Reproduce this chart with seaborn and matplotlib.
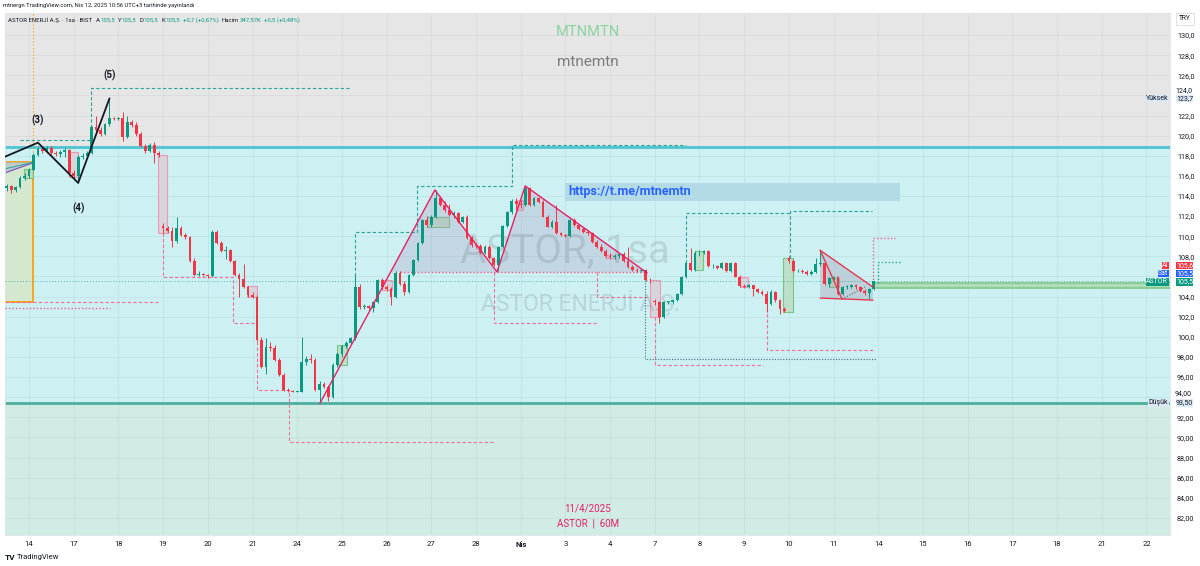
import numpy as np
import pandas as pd
import matplotlib
matplotlib.use("Agg")
import matplotlib.pyplot as plt
from matplotlib.patches import Rectangle, Polygon
import seaborn as sns

sns.set_style("white")
plt.rcParams["font.family"] = ["Roboto", "DejaVu Sans"]

# ASTOR 1h bars: last 5 bars of Mar 13, then 10 bars per session Mar 14 .. Apr 11
opens = [
    114.8, 115.0, 114.6, 114.9, 115.8,
    116.0, 116.6, 118.1, 118.7, 118.5, 118.8, 118.3, 118.2, 118.4, 118.6,
    116.3, 116.0, 117.9, 118.0, 118.3, 120.9, 120.6, 120.2, 121.2, 121.8,
    121.7, 121.8, 119.9, 121.4, 121.1, 120.2, 119.0, 118.5, 119.1, 118.3,
    111.0, 110.8, 110.5, 109.5, 110.8, 110.1, 109.9, 107.5, 106.1, 106.2,
    106.1, 106.0, 110.45, 109.3, 108.5, 108.6, 107.5, 106.1, 105.7, 105.0,
    104.2, 104.0, 99.7, 97.0, 99.0, 98.9, 97.7, 96.2, 94.7, 94.6,
    94.55, 94.55, 97.5, 97.8, 97.7, 94.7, 95.3, 95.0, 94.05, 97.2,
    98.3, 99.1, 99.4, 99.9, 105.0, 103.0, 103.1, 102.9, 103.5, 105.6,
    105.0, 104.8, 104.0, 106.3, 105.3, 104.5, 106.1, 107.6, 109.3, 111.6,
    111.1, 111.95, 113.8, 113.1, 112.6, 112.1, 112.3, 111.45, 111.9, 109.8,
    109.1, 109.0, 108.3, 108.95, 107.8, 107.1, 108.95, 111.0, 112.4, 113.55,
    113.2, 113.1, 114.8, 113.1, 113.8, 113.4, 111.95, 110.95, 111.45, 110.3,
    110.1, 110.0, 111.6, 111.1, 110.7, 110.45, 110.3, 109.45, 108.95, 108.55,
    108.0, 107.9, 108.0, 108.2, 107.5, 106.9, 106.6, 106.55, 106.6, 105.65,
    103.6, 103.5, 102.0, 103.45, 103.5, 103.65, 104.3, 105.95, 107.3, 106.6,
    108.3, 108.3, 108.5, 107.0, 107.0, 106.85, 107.3, 106.5, 107.3, 105.95,
    105.1, 105.0, 105.15, 104.8, 104.5, 104.3, 103.3, 104.5, 103.65, 102.8,
    107.8, 107.5, 106.5, 106.5, 106.4, 106.25, 106.4, 107.2, 107.3, 105.3,
    105.8, 105.95, 104.3, 104.95, 105.0, 105.15, 104.95, 104.6, 104.4, 104.8,
]
highs = [
    115.2, 115.1, 115.0, 116.0, 116.3,
    116.8, 118.3, 118.9, 119.0, 119.0, 119.0, 118.5, 118.6, 118.8, 118.7,
    116.6, 118.1, 118.3, 118.5, 121.0, 122.0, 120.9, 121.3, 123.7, 121.9,
    121.9, 122.3, 122.0, 121.6, 121.4, 120.4, 119.2, 119.3, 119.4, 118.5,
    111.3, 111.0, 110.9, 111.9, 111.0, 110.3, 110.0, 107.8, 106.5, 106.3,
    106.2, 110.6, 110.6, 109.5, 109.0, 108.7, 107.6, 106.3, 107.2, 105.1,
    104.5, 104.2, 100.0, 99.9, 99.5, 99.2, 97.9, 96.4, 94.9, 94.7,
    94.6, 100.0, 98.1, 98.3, 97.9, 95.6, 95.5, 95.2, 97.4, 98.5,
    99.2, 99.6, 100.0, 106.1, 105.3, 103.3, 103.2, 103.6, 105.7, 105.8,
    105.2, 105.0, 106.5, 106.5, 105.5, 106.2, 107.7, 109.4, 111.7, 112.0,
    112.1, 114.6, 114.0, 113.5, 113.2, 112.5, 112.4, 112.0, 112.1, 110.0,
    109.3, 109.2, 109.1, 109.1, 107.9, 109.0, 111.1, 112.5, 113.7, 113.8,
    113.6, 114.9, 114.9, 113.9, 113.9, 113.6, 112.1, 111.6, 113.1, 110.4,
    110.2, 111.7, 111.8, 111.2, 110.9, 110.6, 110.4, 109.6, 109.2, 108.7,
    108.3, 108.2, 108.3, 108.4, 108.95, 107.1, 106.8, 106.7, 106.7, 105.8,
    103.8, 103.6, 103.6, 103.6, 103.8, 104.4, 106.0, 107.4, 108.8, 108.5,
    108.6, 108.6, 108.6, 107.2, 107.1, 107.4, 107.4, 107.4, 107.4, 106.1,
    105.3, 105.3, 105.2, 104.9, 104.7, 104.6, 104.7, 104.6, 103.8, 103.0,
    108.0, 107.7, 106.7, 106.7, 106.6, 106.6, 107.8, 108.6, 107.4, 105.9,
    106.0, 106.0, 105.1, 105.2, 105.3, 105.3, 105.1, 104.8, 104.9, 105.5,
]
lows = [
    114.5, 114.3, 114.4, 114.8, 115.6,
    115.8, 116.5, 118.0, 118.3, 118.3, 118.1, 118.0, 117.9, 117.9, 116.0,
    115.8, 115.3, 117.7, 117.9, 118.2, 120.3, 120.0, 120.1, 121.0, 121.6,
    121.6, 119.5, 119.8, 120.9, 120.0, 118.9, 118.3, 118.4, 117.3, 117.9,
    110.3, 110.3, 108.9, 109.3, 110.0, 109.7, 107.4, 106.0, 106.0, 106.0,
    105.8, 105.9, 109.2, 108.4, 107.7, 107.4, 106.0, 104.0, 104.9, 104.0,
    103.9, 99.6, 96.9, 96.3, 98.6, 97.6, 96.1, 94.6, 94.5, 94.5,
    94.5, 94.5, 97.2, 97.4, 94.6, 93.5, 94.9, 93.6, 93.9, 97.0,
    98.0, 98.9, 99.3, 99.7, 102.8, 102.8, 102.7, 102.5, 103.4, 104.8,
    104.6, 103.2, 103.9, 105.2, 104.2, 104.4, 106.0, 107.5, 109.2, 110.9,
    110.9, 111.8, 113.0, 112.4, 112.0, 111.8, 111.3, 111.3, 109.7, 108.9,
    108.8, 108.2, 108.2, 107.7, 107.0, 106.5, 108.8, 110.9, 112.2, 112.6,
    112.8, 113.0, 113.0, 113.0, 113.3, 111.9, 110.9, 110.8, 110.2, 110.0,
    109.9, 109.9, 111.0, 110.6, 110.3, 110.1, 109.3, 108.8, 108.4, 107.9,
    107.7, 107.7, 107.8, 107.4, 106.8, 106.5, 106.4, 106.4, 105.5, 105.4,
    103.2, 101.4, 101.9, 103.3, 103.3, 103.6, 104.2, 105.8, 106.5, 106.5,
    108.0, 108.2, 106.9, 106.8, 106.7, 106.7, 106.4, 106.4, 105.9, 105.0,
    104.9, 104.9, 104.1, 104.4, 104.2, 102.5, 103.2, 103.5, 102.3, 102.5,
    107.3, 106.4, 106.4, 106.3, 106.1, 106.1, 106.3, 107.0, 105.2, 105.0,
    105.6, 104.2, 104.2, 104.8, 104.9, 104.8, 104.5, 104.2, 103.8, 104.7,
]
closes = [
    115.0, 114.6, 114.9, 115.8, 116.0,
    116.6, 118.1, 118.7, 118.5, 118.8, 118.3, 118.2, 118.4, 118.6, 116.3,
    116.0, 117.9, 118.0, 118.3, 120.9, 120.6, 120.2, 121.2, 121.8, 121.7,
    121.8, 119.9, 121.4, 121.1, 120.2, 119.0, 118.5, 119.1, 118.3, 118.1,
    110.8, 110.5, 109.5, 110.8, 110.1, 109.9, 107.5, 106.1, 106.2, 106.1,
    106.0, 110.45, 109.3, 108.5, 108.6, 107.5, 106.1, 105.7, 105.0, 104.2,
    104.0, 99.7, 97.0, 99.0, 98.9, 97.7, 96.2, 94.7, 94.6, 94.55,
    94.55, 97.5, 97.8, 97.7, 94.7, 95.3, 95.0, 94.05, 97.2, 98.3,
    99.1, 99.4, 99.9, 105.0, 103.0, 103.1, 102.9, 103.5, 105.6, 105.0,
    104.8, 104.0, 106.3, 105.3, 104.5, 106.1, 107.6, 109.3, 111.6, 111.1,
    111.95, 113.8, 113.1, 112.6, 112.1, 112.3, 111.45, 111.9, 109.8, 109.1,
    109.0, 108.3, 108.95, 107.8, 107.1, 108.95, 111.0, 112.4, 113.55, 113.2,
    113.1, 114.8, 113.1, 113.8, 113.4, 111.95, 110.95, 111.45, 110.3, 110.1,
    110.0, 111.6, 111.1, 110.7, 110.45, 110.3, 109.45, 108.95, 108.55, 108.0,
    107.9, 108.0, 108.2, 107.5, 106.9, 106.6, 106.55, 106.6, 105.65, 105.6,
    103.5, 102.0, 103.45, 103.5, 103.65, 104.3, 105.95, 107.3, 106.6, 108.3,
    108.3, 108.5, 107.0, 107.0, 106.85, 107.3, 106.5, 107.3, 105.95, 105.1,
    105.0, 105.15, 104.8, 104.5, 104.3, 103.3, 104.5, 103.65, 102.8, 102.6,
    107.5, 106.5, 106.5, 106.4, 106.25, 106.4, 107.2, 107.3, 105.3, 105.8,
    105.95, 104.3, 104.95, 105.0, 105.15, 104.95, 104.6, 104.4, 104.8, 105.5,
]

day_labels = ["14", "17", "18", "19", "20", "21", "24", "25", "26", "27", "28", "Nis",
              "3", "4", "7", "8", "9", "10", "11", "14", "15", "16", "17", "18", "21", "22"]
bars_per_day = 10
first_day_bar = 5
price_ticks = list(range(82, 131, 2))
# 106 is covered by the Al/Sat tags; 124 and 94 are squeezed above the Yüksek/Düşük tags
hidden_ticks = [106]
nudged_ticks = {124: 124.45, 94: 94.35}

# drawings, as (bar index, price) points
zigzag = [(-0.4, 117.9), (7.0, 119.3), (16.0, 115.3), (23.0, 123.7)]
wave_labels = [("(3)", 7.0, 121.5), ("(4)", 16.0, 112.8), ("(5)", 23.0, 126.0)]
hs_line = [(70.1, 93.4), (95.8, 114.6), (109.7, 106.45), (116.0, 115.0), (143.3, 106.35)]
hs_fills = [[(85.9, 106.4), (95.8, 114.6), (109.7, 106.4)],
            [(109.7, 106.4), (116.0, 115.0), (143.3, 106.4)]]
wedge_fill = [(182.0, 108.6), (193.8, 104.95), (193.8, 103.65), (182.0, 103.85)]
wedge_lines = [[(182.0, 108.6), (193.8, 104.95)], [(182.0, 108.6), (186.9, 103.75)],
               [(182.0, 103.85), (193.8, 103.65)]]
teal_dash = [
    [(3.0, 119.6), (18.9, 119.6), (18.9, 124.7), (76.8, 124.7)],
    [(77.9, 105.0), (77.9, 110.4), (91.8, 110.4), (91.8, 115.0), (113.0, 115.0), (113.0, 119.1), (152.0, 119.1)],
    [(152.0, 107.3), (152.0, 112.3), (175.2, 112.3)],
    [(175.2, 107.8), (175.2, 112.5), (193.6, 112.5)],
]
teal_dot = [[(194.9, 105.4), (194.9, 107.4), (199.9, 107.4)]]
pink_dash = [
    [(-0.4, 103.45), (33.8, 103.45)],
    [(35.0, 110.3), (35.0, 105.95), (50.6, 105.95), (50.6, 101.4), (55.8, 101.4)],
    [(56.0, 104.0), (56.0, 94.7), (63.2, 94.7), (63.2, 89.5), (108.8, 89.5)],
    [(109.0, 106.4), (109.0, 101.4), (132.1, 101.4)],
    [(132.1, 106.4), (132.1, 104.0), (143.3, 104.0)],
    [(145.0, 102.0), (145.0, 97.2), (169.2, 97.2)],
    [(170.1, 102.9), (170.1, 98.7), (193.8, 98.7)],
]
pink_dot = [
    [(-0.4, 102.86), (23.1, 102.86)],
    [(88.0, 106.4), (142.8, 106.4)],
    [(193.8, 105.4), (193.8, 109.8), (198.7, 109.8)],
]
dark_dot = [[(142.8, 105.65), (142.8, 97.8), (194.7, 97.8)],
            [(186.9, 103.75), (192.0, 104.95)]]
pink_boxes = [(13.9, 15.96, 115.9, 118.4), (33.9, 35.9, 110.3, 118.1), (53.8, 56.0, 104.0, 105.1),
              (84.0, 86.2, 104.65, 105.65), (114.2, 115.5, 112.6, 113.6), (133.9, 136.1, 107.8, 108.1),
              (143.9, 146.2, 102.0, 105.65), (164.0, 165.8, 105.0, 105.95)]
green_boxes = [(3.9, 5.9, 115.8, 116.7), (73.9, 76.1, 97.2, 99.2), (94.0, 99.0, 110.9, 111.9),
               (154.0, 155.8, 106.65, 108.5), (173.7, 175.9, 102.5, 107.8), (184.0, 186.2, 104.95, 105.85)]

UP, DN = "#089981", "#f23645"
PINK = "#e91e63"

df = pd.DataFrame({"bar": np.arange(len(closes)), "open": opens, "high": highs,
                   "low": lows, "close": closes})
df["up"] = df["close"] >= df["open"]

fig = plt.figure(figsize=(12, 5.66), dpi=100)
ax = fig.add_axes([5 / 1200, 31 / 566, 1165 / 1200, 522 / 566])
x0, x1, y0, y1 = -0.37, 260.26, 80.3, 132.19
ax.set_xlim(x0, x1)
ax.set_ylim(y0, y1)

# zones
ax.axhspan(118.9, y1, color="#e6e6e6", zorder=0, lw=0)
ax.axhspan(93.4, 118.9, color="#cdf0f3", zorder=0, lw=0)
ax.axhspan(y0, 93.4, color="#d0ece5", zorder=0, lw=0)
ax.axhline(118.9, color="#4fc3cf", lw=2, zorder=1)
ax.axhline(93.4, color="#4caf9e", lw=2, zorder=1)

# left position box
ax.add_patch(Rectangle((x0, 103.45), 5.9 - x0, 117.4 - 103.45, facecolor="#d3e8cf", edgecolor="none", zorder=1))
ax.plot([5.9, 5.9, x0], [117.4, 103.45, 103.45], color="#ff9800", lw=1.2, zorder=2)
ax.plot([x0, 5.9], [117.4, 117.4], color="#ff9800", lw=1.2, zorder=2)
ax.add_patch(Polygon([(x0, 116.3), (5.9, 117.3), (5.9, 117.4), (x0, 117.4)], facecolor="#b0b8c8", alpha=0.6, lw=0, zorder=2))
ax.plot([x0, 5.9], [116.3, 117.3], color="#7e57c2", lw=0.9, zorder=2)
ax.plot([x0, 5.9], [116.7, 117.35], color="#26a69a", lw=0.7, zorder=2)
ax.plot([5.9, 5.9], [117.4, y1], color="#ff9800", lw=0.8, ls=(0, (1, 2)), zorder=2)

for a, b, lo, hi in pink_boxes:
    ax.add_patch(Rectangle((a, lo), b - a, hi - lo, facecolor="#d6d3da", edgecolor="#f48fb1", lw=0.8, alpha=0.9, zorder=2))
for a, b, lo, hi in green_boxes:
    ax.add_patch(Rectangle((a, lo), b - a, hi - lo, facecolor="#b9dcc0", edgecolor="#66bb6a", lw=0.8, alpha=0.8, zorder=2))

for poly in hs_fills:
    ax.add_patch(Polygon(poly, facecolor="#a99cc0", alpha=0.3, lw=0, zorder=2))
ax.add_patch(Polygon(wedge_fill, facecolor="#a7a3b8", alpha=0.4, lw=0, zorder=2))

# right-side green band
ax.add_patch(Rectangle((193.8, 104.85), x1 - 193.8, 0.5, facecolor="#a5d6a7", alpha=0.7, lw=0, zorder=2))
ax.plot([193.8, x1], [105.35, 105.35], color="#81c784", lw=1.2, zorder=2)
ax.plot([193.8, x1], [104.85, 104.85], color="#81c784", lw=1.2, zorder=2)

# telegram box
ax.add_patch(Rectangle((124.9, 113.5), 75.0, 1.8, facecolor="#b3dbe6", lw=0, zorder=2))
ax.text(125.6, 114.4, "https://t.me/mtnemtn", color="#2962ff", fontsize=9, fontweight="bold",
        va="center", ha="left", zorder=6)


def draw_paths(paths, color, ls, lw=0.8):
    for p in paths:
        xs, ys = zip(*p)
        ax.plot(xs, ys, color=color, ls=ls, lw=lw, zorder=3)


draw_paths(teal_dash, "#26a69a", (0, (3, 2)))
draw_paths(teal_dot, "#26a69a", (0, (1, 1.5)), 1.0)
draw_paths(pink_dash, "#ef7093", (0, (3, 2)))
draw_paths(pink_dot, "#ef5f86", (0, (1, 1.5)), 1.0)
draw_paths(dark_dot, "#3c6e78", (0, (1, 1.5)), 0.8)

ax.axhline(105.5, color="#26a69a", ls=(0, (1, 2)), lw=0.7, alpha=0.8, zorder=3)

# candles
col = np.where(df["up"], UP, DN)
ax.vlines(df["bar"], df["low"], df["high"], colors=col, lw=0.7, zorder=4)
body_lo = df[["open", "close"]].min(axis=1)
body_h = (df["close"] - df["open"]).abs().clip(lower=0.07)
ax.bar(df["bar"], body_h, bottom=body_lo, width=0.62, color=col, lw=0, zorder=5)

# pattern lines
zx, zy = zip(*zigzag)
sns.lineplot(x=list(zx), y=list(zy), sort=False, estimator=None, color="#131722", lw=1.3, ax=ax, zorder=6)
hx, hy = zip(*hs_line)
sns.lineplot(x=list(hx), y=list(hy), sort=False, estimator=None, color=PINK, lw=1.0, ax=ax, zorder=6)
for seg in wedge_lines:
    sx, sy = zip(*seg)
    sns.lineplot(x=list(sx), y=list(sy), sort=False, estimator=None, color="#e53950", lw=1.0, ax=ax, zorder=6)
for txt, bx, py in wave_labels:
    ax.text(bx, py, txt, fontsize=7, fontweight="bold", color="#131722", ha="center", va="center", zorder=6)

# watermarks
ax.text(125.0, 108.5, "ASTOR, 1sa", fontsize=29, color="#6f7580", alpha=0.22, ha="center", va="center", zorder=3)
ax.text(128.3, 103.4, "ASTOR ENERJİ A.Ş.", fontsize=16.5, color="#6f7580", alpha=0.22, ha="center", va="center", zorder=3)
fig.text(588 / 1200, 1 - 32 / 566, "MTNMTN", fontsize=10.5, color="#8ad3a3", ha="center", va="center")
fig.text(588 / 1200, 1 - 62 / 566, "mtnemtn", fontsize=11, color="#7b7b7b", ha="center", va="center")
fig.text(588 / 1200, 1 - 508 / 566, "11/4/2025", fontsize=7, color=PINK, ha="center", va="center")
fig.text(588 / 1200, 1 - 524 / 566, "ASTOR  |  60M", fontsize=7, color=PINK, ha="center", va="center")

# axes styling
day_pos = [first_day_bar + bars_per_day * i for i in range(len(day_labels))]
ax.set_xticks(day_pos)
ax.set_xticklabels(day_labels, fontsize=5.5, color="#131722")
for lab in ax.get_xticklabels():
    if lab.get_text() == "Nis":
        lab.set_fontweight("bold")


def price_fmt(v):
    return (f"{v:.1f}" if v >= 100 else f"{v:.2f}").replace(".", ",")


ax.yaxis.tick_right()
ax.set_yticks(price_ticks)
ax.set_yticklabels(["" if (v in hidden_ticks or v in nudged_ticks) else price_fmt(v) for v in price_ticks],
                   fontsize=5.2, color="#131722")
ax.tick_params(axis="both", length=0, pad=4)
ax.tick_params(axis="y", pad=5)
ax.grid(True, color="#000000", alpha=0.05, lw=0.6)
ax.set_axisbelow(True)
for s in ax.spines.values():
    s.set_color("#e0e3eb")
    s.set_linewidth(0.6)

ytr = ax.get_yaxis_transform()
for v, shown_at in nudged_ticks.items():
    ax.text(1.0043, shown_at, price_fmt(v), transform=ytr, fontsize=5.0, color="#131722",
            ha="left", va="center", clip_on=False)

# price scale tags
scale_tags = [("Yüksek", "123,7", 123.7, "#dbe9f7", "#131722"),
              ("Düşük", "93,50", 93.45, "#dbe9f7", "#131722"),
              ("Al", "105,6", 107.1, "#f23645", "white"),
              ("Sat", "105,5", 106.28, "#2962ff", "white"),
              ("ASTOR", "105,5", 105.45, "#089981", "white")]
for name, val, py, bg, fg in scale_tags:
    ax.text(0.9985, py, name, transform=ytr, fontsize=5.0, color=fg, ha="right", va="center", clip_on=False,
            bbox=dict(boxstyle="square,pad=0.05", fc=bg, ec="none"), zorder=7)
    ax.text(1.0125, py, val, transform=ytr, fontsize=5.0, color=fg, ha="center", va="center", clip_on=False,
            bbox=dict(boxstyle="square,pad=0.05", fc=bg, ec="none"), zorder=7)
fig.text(1185 / 1200, 1 - 19 / 566, "TRY", fontsize=4.8, color="#131722", ha="center", va="center",
         bbox=dict(boxstyle="square,pad=0.4", fc="white", ec="#d1d4dc", lw=0.5))

# header lines, laid out one piece after another
renderer = fig.canvas.get_renderer()
fig.text(3 / 1200, 1 - 6 / 566, "mtnergn TradingView.com, Nis 12, 2025 10:56 UTC+3 tarihinde yayınlandı",
         fontsize=4.2, color="#131722", va="center")
G, D = "#089981", "#131722"
header = [("ASTOR ENERJİ A.Ş. · 1sa · BIST", D, 4), ("A", D, 0.3), ("105,5", G, 3),
          ("Y", D, 0.3), ("105,5", G, 3), ("D", D, 0.3), ("105,5", G, 3),
          ("K", D, 0.3), ("105,5", G, 3), ("+0,7 (+0,67%)", G, 3),
          ("Hacim", D, 0.3), ("347,57K", G, 3), ("+0,5 (+0,48%)", G, 0)]
hx_px = 8.0
for txt, c, gap in header:
    t = fig.text(hx_px / 1200, 1 - 20 / 566, txt, fontsize=4.3, color=c, va="center")
    hx_px += t.get_window_extent(renderer).width + gap

fig.text(5 / 1200, 1 - 557 / 566, "TV", fontsize=6, fontweight="bold", color="#131722", va="center")
fig.text(17 / 1200, 1 - 557 / 566, "TradingView", fontsize=5.5, color="#131722", va="center")

fig.savefig("out.png", dpi=100, facecolor="white")
